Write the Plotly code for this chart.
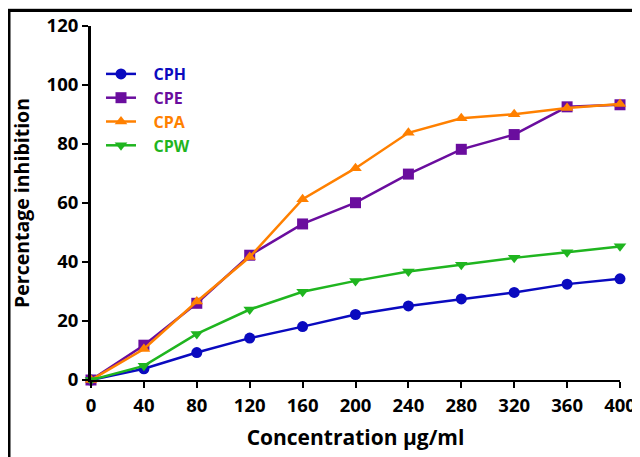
import plotly.graph_objects as go

conc = [0, 40, 80, 120, 160, 200, 240, 280, 320, 360, 400]
cph = [0, 3.8, 9.3, 14.2, 18.1, 22.2, 25.1, 27.5, 29.7, 32.5, 34.3]
cpe = [0, 11.8, 26.0, 42.3, 52.9, 60.1, 69.8, 78.2, 83.2, 92.6, 93.3]
cpa = [0, 10.5, 26.6, 41.7, 61.3, 71.8, 83.8, 88.7, 90.1, 92.2, 93.6]
cpw = [0, 4.8, 15.6, 23.9, 29.9, 33.6, 36.8, 39.1, 41.4, 43.3, 45.3]

series = [
    ("CPH", cph, "#0A0ABF", "circle"),
    ("CPE", cpe, "#6A0D9E", "square"),
    ("CPA", cpa, "#FF8000", "triangle-up"),
    ("CPW", cpw, "#1FB51F", "triangle-down"),
]

# page is offset by the browser's 8px body margin
OFF = 8
W, H = 640 - OFF, 457 - OFF
L, T = 91 - OFF, 26 - OFF
R = W - (620 - OFF)
B = H - (380 - OFF)
pw, ph = W - L - R, H - T - B

fig = go.Figure()
for name, vals, col, sym in series:
    fig.add_trace(go.Scatter(
        x=conc, y=vals, mode="lines+markers",
        name=f"<span style='color:{col}'>&nbsp;&nbsp;&nbsp;{name}</span>",
        line=dict(color=col, width=2.5),
        marker=dict(symbol=sym, size=11, color=col),
        cliponaxis=False,
    ))

def px_x(p):
    return (p - OFF - L) / pw

def px_y(p):
    return (H - B - (p - OFF)) / ph

font = "Open Sans"
fig.update_layout(
    width=W, height=H,
    margin=dict(l=L, r=R, t=T, b=B, autoexpand=False),
    plot_bgcolor="white", paper_bgcolor="white",
    showlegend=True,
    legend=dict(x=px_x(101), y=px_y(57), xanchor="left", yanchor="top",
                font=dict(family=font, size=16, color="black", weight="bold"),
                bgcolor="rgba(0,0,0,0)", tracegroupgap=0, itemwidth=30),
    xaxis=dict(range=[0, 400], tickvals=conc, showgrid=False, zeroline=False,
               automargin=False,
               showline=True, linecolor="black", linewidth=2,
               ticks="outside", ticklen=6, tickwidth=2, tickcolor="black",
               ticklabelstandoff=2,
               tickfont=dict(family=font, size=18.5, color="black", weight="bold"),
               title=dict(text="Concentration µg/ml", standoff=14,
                          font=dict(family=font, size=21, color="black", weight="bold"))),
    yaxis=dict(range=[0, 120], tickvals=[0, 20, 40, 60, 80, 100, 120], showgrid=False,
               automargin=False,
               zeroline=False, showline=True, linecolor="black", linewidth=3,
               ticks="outside", ticklen=6, tickwidth=2, tickcolor="black",
               tickfont=dict(family=font, size=18.5, color="black", weight="bold"),
               title=dict(text="Percentage inhibition", standoff=15,
                          font=dict(family=font, size=19.5, color="black", weight="bold"))),
)

fig.add_shape(type="line", xref="paper", yref="paper",
              x0=px_x(8), x1=px_x(640), y0=px_y(8.5), y1=px_y(8.5),
              line=dict(color="#cccccc", width=1))
fig.add_shape(type="line", xref="paper", yref="paper",
              x0=px_x(7), x1=px_x(640), y0=px_y(10.5), y1=px_y(10.5),
              line=dict(color="black", width=3))
fig.add_shape(type="line", xref="paper", yref="paper",
              x0=px_x(9), x1=px_x(9), y0=px_y(10), y1=px_y(460),
              line=dict(color="black", width=3))

fig.write_html("out.html")
